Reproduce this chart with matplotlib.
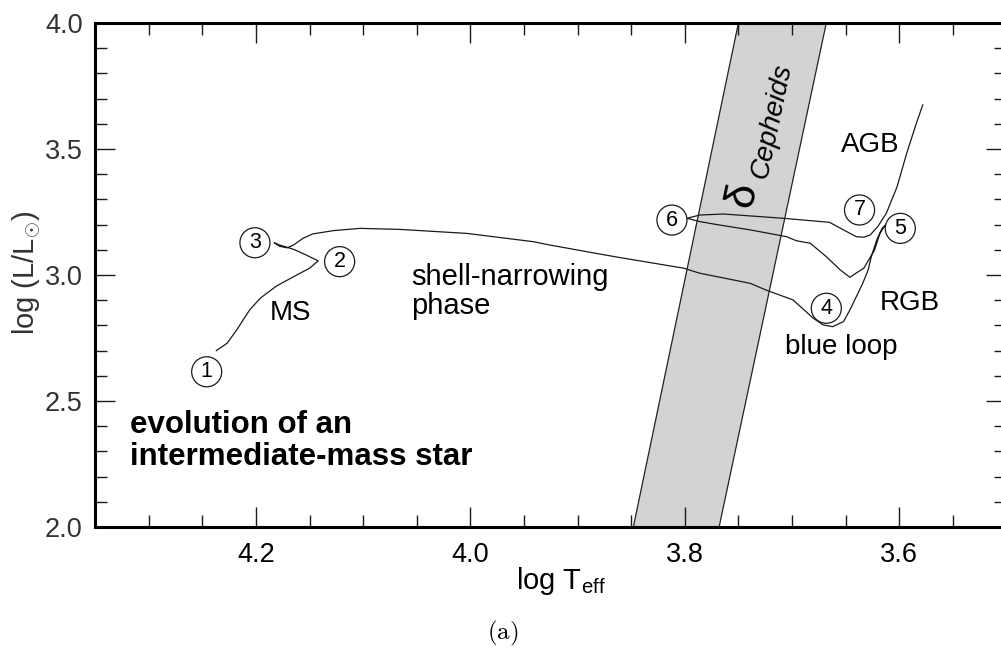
import matplotlib
matplotlib.use("Agg")
import matplotlib.pyplot as plt
from matplotlib.ticker import MultipleLocator
from matplotlib.patches import Polygon

plt.rcParams["font.family"] = ["Liberation Sans", "DejaVu Sans"]
plt.rcParams["mathtext.fontset"] = "custom"
plt.rcParams["mathtext.rm"] = "Liberation Sans"
plt.rcParams["mathtext.it"] = "Liberation Sans:italic"
plt.rcParams["mathtext.bf"] = "Liberation Sans:bold"

# Evolutionary track of an intermediate-mass star (log Teff, log L/Lsun)
track_teff = [
    4.237, 4.227, 4.218, 4.206, 4.196, 4.181, 4.162, 4.150, 4.142,
    4.153, 4.165, 4.178, 4.183,
    4.178, 4.171, 4.165, 4.156, 4.147, 4.128, 4.103, 4.066, 4.003, 3.941,
    3.926, 3.879, 3.863, 3.801, 3.786, 3.739, 3.724, 3.699, 3.680, 3.671,
    3.662, 3.652, 3.646, 3.640, 3.634, 3.629, 3.626, 3.621, 3.616, 3.613,
    3.618, 3.623, 3.633, 3.640, 3.646, 3.655, 3.668, 3.683, 3.696, 3.705,
    3.739, 3.770, 3.786, 3.798,
    3.786, 3.764, 3.708, 3.665, 3.652, 3.640, 3.633, 3.627, 3.620, 3.612,
    3.602, 3.593, 3.584, 3.578,
]
track_lum = [
    2.700, 2.729, 2.782, 2.861, 2.908, 2.956, 3.000, 3.027, 3.056,
    3.079, 3.102, 3.119, 3.128,
    3.114, 3.108, 3.119, 3.146, 3.163, 3.176, 3.185, 3.181, 3.165, 3.132,
    3.119, 3.083, 3.071, 3.027, 3.007, 2.967, 2.940, 2.901, 2.828, 2.802,
    2.795, 2.815, 2.861, 2.914, 2.967, 3.020, 3.073, 3.139, 3.185, 3.198,
    3.165, 3.099, 3.027, 3.008, 2.991, 3.020, 3.073, 3.126, 3.136, 3.152,
    3.179, 3.200, 3.212, 3.225,
    3.238, 3.242, 3.225, 3.209, 3.179, 3.152, 3.150, 3.159, 3.192, 3.245,
    3.350, 3.483, 3.602, 3.675,
]

# Cepheid instability strip: blue and red edges at log L = 2 and 4
strip_lum = [2.0, 4.0]
strip_blue_edge = [3.848, 3.750]
strip_red_edge = [3.768, 3.668]

# Numbered evolutionary stages
stage_names = ["1", "2", "3", "4", "5", "6", "7"]
stage_teff = [4.246, 4.122, 4.201, 3.668, 3.599, 3.812, 3.637]
stage_lum = [2.616, 3.053, 3.128, 2.868, 3.185, 3.218, 3.258]

# Phase annotations
phase_names = ["MS", "shell-narrowing\nphase", "AGB", "RGB", "blue loop"]
phase_teff = [4.168, 4.055, 3.627, 3.590, 3.654]
phase_lum = [2.848, 2.935, 3.516, 2.889, 2.716]

fig = plt.figure(figsize=(10.01, 6.48), dpi=100)
ax = fig.add_axes([95.2 / 1001, 121 / 648, 911.2 / 1001, 504 / 648])

ax.set_xlim(4.35, 3.5)
ax.set_ylim(2.0, 4.0)

strip = Polygon(
    [(strip_blue_edge[0], strip_lum[0]), (strip_red_edge[0], strip_lum[0]),
     (strip_red_edge[1], strip_lum[1]), (strip_blue_edge[1], strip_lum[1])],
    closed=True, facecolor="#d1d3d4", edgecolor="#222222", linewidth=0.9,
    zorder=1,
)
ax.add_patch(strip)

ax.plot(track_teff, track_lum, color="#1a1a1a", lw=0.9, zorder=3,
        solid_joinstyle="round")

for name, t, l in zip(stage_names, stage_teff, stage_lum):
    ax.text(t, l, name, fontsize=15.5, ha="center", va="center", zorder=5,
            bbox=dict(boxstyle="circle,pad=0.21", fc="white", ec="#1a1a1a",
                      lw=0.9))

aligns = ["center", "left", "center", "center", "center"]
sizes = [20, 21, 20, 20, 20]
for name, t, l, al, fs in zip(phase_names, phase_teff, phase_lum, aligns,
                              sizes):
    ax.text(t, l, name, fontsize=fs, ha=al, va="center", linespacing=1.05,
            zorder=4)

ax.text(4.318, 2.246, "evolution of an\nintermediate-mass star",
        fontsize=22.5, fontweight="bold", ha="left", va="baseline",
        linespacing=1.08, zorder=4)

# Strip label, running along the strip
ax.text(3.7457, 3.318, "\u03b4", fontsize=31, rotation=78, ha="center",
        va="center", rotation_mode="anchor", zorder=4)
ax.text(3.7236, 3.377, "Cepheids", fontsize=20, style="italic", rotation=78,
        ha="left", va="baseline", rotation_mode="anchor", zorder=4)

ax.set_xticks([4.2, 4.0, 3.8, 3.6])
ax.set_xticklabels(["4.2", "4.0", "3.8", "3.6"])
ax.set_yticks([2.0, 2.5, 3.0, 3.5, 4.0])
ax.set_yticklabels(["2.0", "2.5", "3.0", "3.5", "4.0"])
ax.xaxis.set_minor_locator(MultipleLocator(0.05))
ax.yaxis.set_minor_locator(MultipleLocator(0.1))

ax.tick_params(which="both", direction="in", top=True, right=True,
               width=1.0, color="#1a1a1a")
ax.tick_params(which="major", length=14.5)
ax.tick_params(which="minor", length=8.5)
ax.tick_params(axis="x", which="major", labelsize=19.5, pad=11)
ax.tick_params(axis="y", which="major", labelsize=19.5, pad=9,
               labelcolor="#333333")

for sp in ax.spines.values():
    sp.set_linewidth(2.2)
    sp.set_color("black")

ax.set_xlabel(r"log T$_{\mathrm{eff}}$", fontsize=21)
ax.xaxis.set_label_coords(0.511, -0.075)
ax.set_ylabel(r"log (L/L$_{\odot}$)", fontsize=21, color="#333333")
ax.yaxis.set_label_coords(-0.057, 0.505)

fig.text(503 / 1001, 1 - 633 / 648, r"$\mathrm{(a)}$", fontsize=18,
         ha="center", va="center", math_fontfamily="cm")

fig.savefig("out.png", dpi=100)
